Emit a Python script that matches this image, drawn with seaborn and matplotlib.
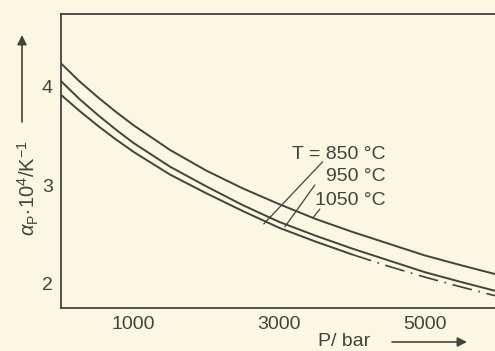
import matplotlib
matplotlib.use('Agg')
import matplotlib.pyplot as plt
import seaborn as sns
import pandas as pd

# pressure in bar, alpha_P * 10^4 in 1/K
pressure = [0, 250, 500, 750, 1000, 1500, 2000, 2500, 3000, 3500, 4000, 4500, 5000, 5500, 5970]
alpha_1050 = [4.24, 4.06, 3.90, 3.75, 3.61, 3.36, 3.15, 2.97, 2.81, 2.66, 2.53, 2.41, 2.29, 2.19, 2.10]
alpha_950 = [4.06, 3.88, 3.72, 3.57, 3.43, 3.19, 2.99, 2.80, 2.63, 2.49, 2.36, 2.24, 2.12, 2.02, 1.93]
alpha_850 = [3.92, 3.76, 3.61, 3.47, 3.34, 3.11, 2.92, 2.74, 2.57, 2.43, 2.30, 2.18, 2.07, 1.97, 1.88]
temps = ['850 °C', '950 °C', '1050 °C']
x_ticks = [1000, 2000, 3000, 4000, 5000]
x_labels = ['1000', '', '3000', '', '5000']
y_ticks = [2, 3, 4]

sns.set_style('white')
plt.rcParams['font.family'] = ['Liberation Sans', 'DejaVu Sans']
plt.rcParams['mathtext.fontset'] = 'custom'
plt.rcParams['mathtext.rm'] = 'Liberation Sans'
plt.rcParams['mathtext.it'] = 'Liberation Sans:italic'
plt.rcParams['mathtext.sf'] = 'Liberation Sans'

bg = '#faf8e2'
ink = '#45423a'

df = pd.DataFrame({'P': pressure, '1050': alpha_1050, '950': alpha_950, '850': alpha_850})
extrap = 4000  # 850 °C curve is dash-dotted beyond this pressure

fig = plt.figure(figsize=(4.95, 3.51), dpi=100, facecolor=bg)
ax = fig.add_axes([61 / 495, 1 - 308 / 351, 1 - 61 / 495, (308 - 14) / 351])
ax.set_facecolor(bg)

sns.lineplot(data=df, x='P', y='1050', color=ink, lw=1.4, ax=ax)
sns.lineplot(data=df, x='P', y='950', color=ink, lw=1.4, ax=ax)
sns.lineplot(data=df[df['P'] <= extrap], x='P', y='850', color=ink, lw=1.4, ax=ax)
sns.lineplot(data=df[df['P'] >= extrap], x='P', y='850', color=ink, lw=1.2,
             linestyle=(0, (12, 4, 1, 4)), ax=ax)

ax.set_xlim(0, 5966)
ax.set_ylim(1.756, 4.741)
ax.set_xticks(x_ticks)
ax.set_xticklabels(x_labels)
ax.set_yticks(y_ticks)
ax.set_xlabel('')
ax.set_ylabel('')
ax.tick_params(direction='in', length=7.5, width=1.1, colors=ink, labelsize=14, pad=6)
for s in ['left', 'bottom', 'top']:
    ax.spines[s].set_color(ink)
    ax.spines[s].set_linewidth(1.3)
ax.spines['right'].set_visible(False)

# curve labels with leader lines
lab_kw = dict(fontsize=14, color=ink, ha='right', va='center')
leader = dict(arrowstyle='-', color=ink, lw=0.9, shrinkA=0, shrinkB=0)
ax.text(4457, 3.315, 'T = ' + temps[0], **lab_kw)
ax.text(4457, 3.09, temps[1], **lab_kw)
ax.text(4457, 2.85, temps[2], **lab_kw)
ax.annotate('', xy=(2788, 2.61), xytext=(3596, 3.24), arrowprops=leader)
ax.annotate('', xy=(3077, 2.58), xytext=(3490, 3.005), arrowprops=leader)
ax.annotate('', xy=(3462, 2.67), xytext=(3558, 2.76), arrowprops=leader)

# axis titles with arrows
fig.text(28 / 495, 1 - 188 / 351, r'$\alpha_{\mathrm{P}}\!\cdot\!10^{4}/\mathrm{K}^{-1}$',
         rotation=90, ha='center', va='center', fontsize=14.5, color=ink)
fig.text(344 / 495, 1 - 341 / 351, 'P/ bar', ha='center', va='center', fontsize=14, color=ink)
arrow = dict(arrowstyle='-|>', color=ink, lw=1.2, mutation_scale=14, shrinkA=0, shrinkB=0)
ax.annotate('', xy=(22 / 495, 1 - 35 / 351), xytext=(22 / 495, 1 - 122 / 351),
            xycoords='figure fraction', textcoords='figure fraction', arrowprops=arrow,
            annotation_clip=False)
ax.annotate('', xy=(467 / 495, 1 - 342 / 351), xytext=(392 / 495, 1 - 342 / 351),
            xycoords='figure fraction', textcoords='figure fraction', arrowprops=arrow,
            annotation_clip=False)

fig.savefig('out.png', dpi=100, facecolor=bg)
